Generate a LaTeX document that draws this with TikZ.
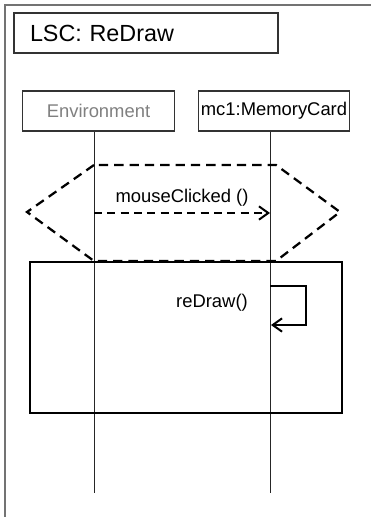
\documentclass[tikz,border=0pt]{standalone}
\usepackage{fontspec}
\setmainfont{Liberation Sans}
\usetikzlibrary{positioning, arrows.meta}

\begin{document}
\begin{tikzpicture}[x=0.75pt, y=-0.75pt]
    % settings for this chart
    \tikzset{
      >={Straight Barb[length=7pt, width=10pt, line width=1.5pt]},
      lifebox/.style={draw=black!80, line width=0.8pt, minimum width=113.5pt,
        minimum height=30pt, inner sep=1pt, font=\fontsize{13.8}{16}\selectfont},
      lifeline/.style={draw=black!85, line width=0.75pt},
      prechart/.style={draw, line width=1.7pt, dash pattern=on 7pt off 4.5pt},
      mainchart/.style={draw, line width=2.1pt},
      msg/.style={line width=1.6pt, dash pattern=on 6pt off 4pt},
      selfmsg/.style={line width=1.8pt},
      lbl/.style={font=\fontsize{13.8}{16}\selectfont},
    }
    \useasboundingbox (0,0) rectangle (371,517);

    % frame and title
    \draw[black!55, line width=1.3pt] (5,517) -- (5,5) -- (371,5);
    \node[draw=black!80, line width=0.8pt, minimum width=198pt, minimum height=30pt,
      inner xsep=12pt, text width=174pt, align=left,
      font=\fontsize{17.5}{20}\selectfont] (title) at (146,33) {LSC: ReDraw};

    % instances
    \node[lifebox, text=black!50] (env) at (98.5,111) {Environment};
    \node[lifebox] (mc1) at (274,111) {mc1:MemoryCard};
    \coordinate (envend) at (94,493);
    \coordinate (mc1end) at (270,493);
    \draw[lifeline] (env.south -| envend) -- (envend);
    \draw[lifeline] (mc1.south -| mc1end) -- (mc1end);

    % prechart
    \coordinate (hxtl) at (94,165);
    \coordinate (hxtr) at (276,165);
    \coordinate (hxl) at (27,212);
    \coordinate (hxr) at (340,212);
    \coordinate (hxbl) at (94,261);
    \coordinate (hxbr) at (276,261);
    \draw[prechart] (hxtl) -- (hxl) -- (hxbl) -- (hxbr) -- (hxr) -- (hxtr) -- cycle;

    \coordinate (clickA) at (94,213);
    \coordinate (clickB) at (270,213);
    \draw[msg, ->] (clickA) -- node[lbl, above=1pt] (clicklbl) {mouseClicked ()} (clickB);

    % main chart
    \coordinate (mainNW) at (30,262);
    \coordinate (mainSE) at (342,413);
    \draw[mainchart] (mainNW) rectangle (mainSE);

    \coordinate (redrawA) at (270,286);
    \coordinate (redrawB) at (271,325);
    \draw[selfmsg, ->] (redrawA) -- ++(36,0) |- (redrawB);
    \node[lbl] (redrawlbl) at (212,303) {reDraw()};

  \end{tikzpicture}
\end{document}
